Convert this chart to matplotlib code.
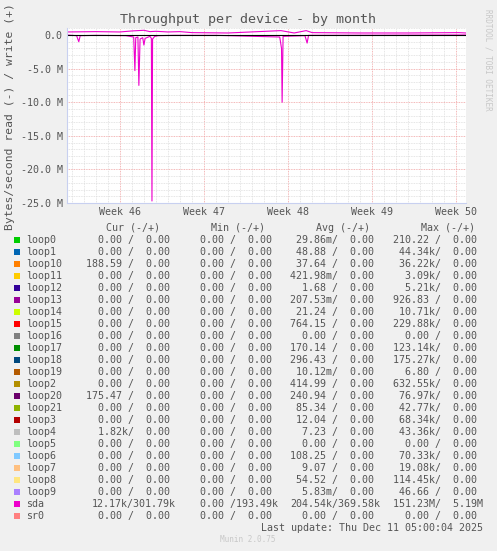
import matplotlib.pyplot as plt
from matplotlib.ticker import MultipleLocator

W, H = 497, 551

# time in days relative to the "Week 46" label
read_t = [-4.4, -3.6, -3.42, -3.3, -2.0, 0.5, 1.15, 1.25, 1.32, 1.5, 1.58, 1.68, 1.9, 2.0, 2.1,
          2.5, 2.62, 2.67, 2.72, 2.9, 3.2, 4.5, 8.0, 13.3, 13.45, 13.5, 13.58, 15.4, 15.58, 15.7, 28.8]
read_v = [0.0, -0.1, -1.0, -0.1, -0.05, -0.1, -0.3, -5.3, -0.4, -0.3, -7.5, -0.6, -0.4, -1.5, -0.5,
          -0.2, -0.5, -24.7, -0.6, -0.2, -0.1, -0.05, -0.05, -0.3, -2.0, -10.0, -0.2, -0.1, -1.2, -0.05, 0.0]
write_t = [-4.4, -2.0, 0.0, 1.0, 2.0, 2.5, 3.0, 4.0, 5.0, 6.0, 9.0, 13.4, 14.5, 15.5, 16.0, 20.0, 24.0, 28.2, 28.8]
write_v = [0.45, 0.5, 0.45, 0.6, 0.7, 0.5, 0.55, 0.45, 0.5, 0.35, 0.3, 0.65, 0.3, 0.65, 0.35, 0.3, 0.3, 0.35, 0.3]

weeks = ["Week 46", "Week 47", "Week 48", "Week 49", "Week 50"]
week_days = [0, 7, 14, 21, 28]
yticks = [0, -5, -10, -15, -20, -25]
ylabels = ["0.0", "-5.0 M", "-10.0 M", "-15.0 M", "-20.0 M", "-25.0 M"]

names = ["loop0", "loop1", "loop10", "loop11", "loop12", "loop13", "loop14", "loop15", "loop16",
         "loop17", "loop18", "loop19", "loop2", "loop20", "loop21", "loop3", "loop4", "loop5",
         "loop6", "loop7", "loop8", "loop9", "sda", "sr0"]
colors = ["#00CC00", "#0066B3", "#FF8000", "#FFCC00", "#330099", "#990099", "#CCFF00", "#FF0000",
          "#808080", "#008F00", "#00487D", "#B35A00", "#B38F00", "#6B006B", "#8FB300", "#B30000",
          "#BEBEBE", "#80FF80", "#80C9FF", "#FFC080", "#FFE680", "#AA80FF", "#EE00CC", "#FF8080"]
cur = ["0.00 /  0.00", "0.00 /  0.00", "188.59 /  0.00", "0.00 /  0.00", "0.00 /  0.00",
       "0.00 /  0.00", "0.00 /  0.00", "0.00 /  0.00", "0.00 /  0.00", "0.00 /  0.00",
       "0.00 /  0.00", "0.00 /  0.00", "0.00 /  0.00", "175.47 /  0.00", "0.00 /  0.00",
       "0.00 /  0.00", "1.82k/  0.00", "0.00 /  0.00", "0.00 /  0.00", "0.00 /  0.00",
       "0.00 /  0.00", "0.00 /  0.00", "12.17k/301.79k", "0.00 /  0.00"]
mins = ["0.00 /  0.00"] * 22 + ["0.00 /193.49k", "0.00 /  0.00"]
avg = ["29.86m/  0.00", "48.88 /  0.00", "37.64 /  0.00", "421.98m/  0.00", "1.68 /  0.00",
       "207.53m/  0.00", "21.24 /  0.00", "764.15 /  0.00", "0.00 /  0.00", "170.14 /  0.00",
       "296.43 /  0.00", "10.12m/  0.00", "414.99 /  0.00", "240.94 /  0.00", "85.34 /  0.00",
       "12.04 /  0.00", "7.23 /  0.00", "0.00 /  0.00", "108.25 /  0.00", "9.07 /  0.00",
       "54.52 /  0.00", "5.83m/  0.00", "204.54k/369.58k", "0.00 /  0.00"]
mx = ["210.22 /  0.00", "44.34k/  0.00", "36.22k/  0.00", "3.09k/  0.00", "5.21k/  0.00",
      "926.83 /  0.00", "10.71k/  0.00", "229.88k/  0.00", "0.00 /  0.00", "123.14k/  0.00",
      "175.27k/  0.00", "6.80 /  0.00", "632.55k/  0.00", "76.97k/  0.00", "42.77k/  0.00",
      "68.34k/  0.00", "43.36k/  0.00", "0.00 /  0.00", "70.33k/  0.00", "19.08k/  0.00",
      "114.45k/  0.00", "46.66 /  0.00", "151.23M/  5.19M", "0.00 /  0.00"]

bg = "#F0F0F0"
txt = "#555555"
mono = "DejaVu Sans Mono"
CW = 6.0  # px per monospace char

fig = plt.figure(figsize=(W / 100, H / 100), dpi=100, facecolor=bg)
ax = fig.add_axes([67 / W, 1 - 203 / H, (466 - 67) / W, (203 - 28) / H])
ax.set_facecolor("white")
ax.set_xlim(-4.4, 28.8)
ax.set_ylim(-25, 1.04)

ax.xaxis.set_minor_locator(MultipleLocator(1))
ax.yaxis.set_minor_locator(MultipleLocator(1))
ax.grid(which="minor", color="#DDDDDD", linestyle=(0, (1, 1)), linewidth=0.6)
ax.grid(which="major", color="#F0A0A0", linestyle=(0, (1, 1)), linewidth=0.6)
ax.set_axisbelow(True)
ax.set_xticks(week_days)
ax.set_xticklabels(weeks, fontsize=7.2, family=mono, color=txt)
ax.set_yticks(yticks)
ax.set_yticklabels(ylabels, fontsize=7.2, family=mono, color=txt)
ax.tick_params(which="both", length=0, pad=3)
for s in ["top", "right"]:
    ax.spines[s].set_visible(False)
for s in ["left", "bottom"]:
    ax.spines[s].set_color("#C8D0F0")

ax.plot(read_t, read_v, color="#EE00CC", linewidth=0.8)
ax.plot(write_t, write_v, color="#EE00CC", linewidth=0.8)
ax.axhline(0, color="black", linewidth=0.8)

fig.text(248 / W, 1 - 19 / H, "Throughput per device - by month", ha="center", va="center",
         fontsize=9.6, family=mono, color=txt)
fig.text(10 / W, 1 - 117 / H, "Bytes/second read (-) / write (+)", rotation=90, ha="center",
         va="center", fontsize=8.2, family=mono, color=txt)
fig.text(488 / W, 1 - 60 / H, "RRDTOOL / TOBI OETIKER", rotation=270, ha="center", va="center",
         fontsize=5.5, family=mono, color="#C8C8C8")

# legend
def yp(py):
    return 1 - py / H

for label, xr in zip(["Cur (-/+)", "Min (-/+)", "Avg (-/+)", "Max (-/+)"], [160, 265, 370, 475]):
    fig.text(xr / W, yp(228), label, ha="right", va="center", fontsize=7.2, family=mono, color=txt)
for i, n in enumerate(names):
    py = 240 + i * 12
    fig.patches.append(plt.Rectangle((14 / W, yp(py + 3)), 6 / W, 6 / H, transform=fig.transFigure,
                                     facecolor=colors[i], edgecolor="none"))
    fig.text(26 / W, yp(py), n, ha="left", va="center", fontsize=7.2, family=mono, color=txt)
    for col, xr in zip([cur, mins, avg, mx], [176, 278, 380, 483]):
        s = col[i]
        shift = 0 if s[-1].isalpha() else CW
        fig.text((xr - shift) / W, yp(py), s, ha="right", va="center", fontsize=7.2, family=mono, color=txt)

fig.text(483 / W, yp(528), "Last update: Thu Dec 11 05:00:04 2025", ha="right", va="center",
         fontsize=7.2, family=mono, color=txt)
fig.text(248 / W, yp(540), "Munin 2.0.75", ha="center", va="center", fontsize=5.5, family=mono,
         color="#C8C8C8")

fig.savefig("out.png", dpi=100, facecolor=bg)
